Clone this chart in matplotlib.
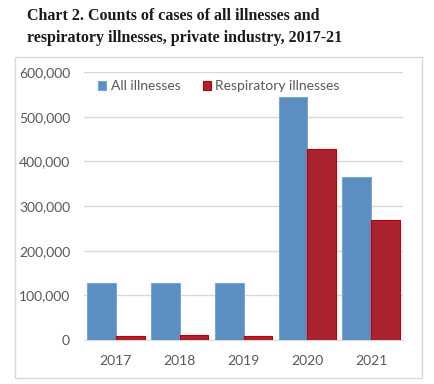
import matplotlib.pyplot as plt
import numpy as np
from matplotlib.patches import Rectangle
from matplotlib.ticker import FuncFormatter

years = ['2017', '2018', '2019', '2020', '2021']
all_illnesses = [127200, 127100, 127200, 544600, 365200]
respiratory = [10000, 10800, 10000, 428700, 269600]

fig = plt.figure(figsize=(4.34, 3.84), dpi=100)

# title
fig.text(27 / 434, 1 - 8 / 384,
         'Chart 2. Counts of cases of all illnesses and\nrespiratory illnesses, private industry, 2017-21',
         family='Liberation Serif', fontweight='bold', fontsize=11.5, va='top', ha='left',
         linespacing=1.5, color='#1a1a1a')

# outer chart box
box = Rectangle((15 / 434, 6 / 384), 407 / 434, 321 / 384, transform=fig.transFigure,
                facecolor='white', edgecolor='#d9d9d9', linewidth=1, zorder=-1)
fig.patches.append(box)

ax = fig.add_axes([84 / 434, 1 - 340 / 384, 319 / 434, 268 / 384])
ax.patch.set_alpha(0)
x = np.arange(len(years))
w = 0.45
ax.bar(x - w / 2, all_illnesses, w, color='#5b8fc3', edgecolor='#7aa6d2', linewidth=0.8,
       label='All illnesses', zorder=3)
ax.bar(x + w / 2, respiratory, w, color='#ab2330', edgecolor='#c00000', linewidth=0.8,
       label='Respiratory illnesses', zorder=3)

ax.set_xlim(-0.5, 4.5)
ax.set_ylim(0, 600000)
ax.set_yticks(range(0, 600001, 100000))
ax.yaxis.set_major_formatter(FuncFormatter(lambda v, p: f'{int(v):,}'))
ax.set_xticks(x)
ax.set_xticklabels(years)
ax.grid(axis='y', color='#d9d9d9', linewidth=1, zorder=0)
for s in ['top', 'right', 'left']:
    ax.spines[s].set_visible(False)
ax.spines['bottom'].set_color('#d9d9d9')
ax.tick_params(length=0, labelsize=10, colors='#595959', pad=11)
ax.tick_params(axis='y', pad=10)
for lbl in ax.get_xticklabels() + ax.get_yticklabels():
    lbl.set_family('Lato')

leg = ax.legend(loc='upper left', bbox_to_anchor=(0.005, 1.015), ncol=2, frameon=False,
                handlelength=0.6, handleheight=0.6, handletextpad=0.3,
                columnspacing=1.6, prop={'family': 'Lato', 'size': 10})
for t in leg.get_texts():
    t.set_color('#595959')

fig.savefig('out.png', dpi=100)
